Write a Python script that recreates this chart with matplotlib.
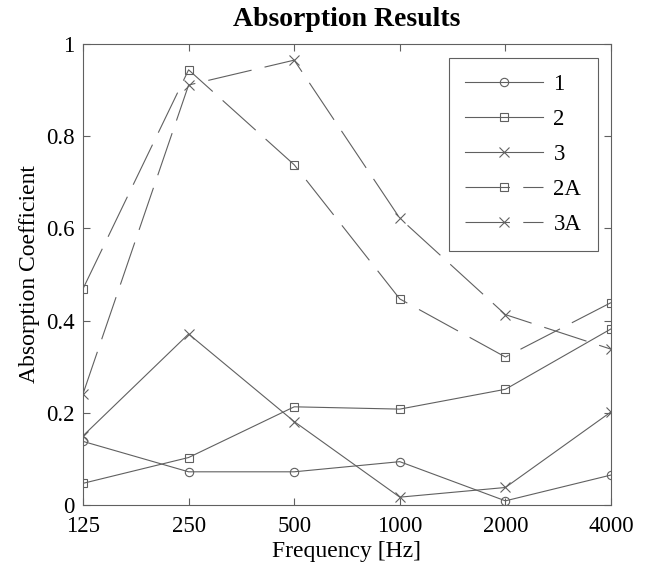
import numpy as np
import matplotlib.pyplot as plt

plt.rcParams['font.family'] = ['Liberation Serif', 'DejaVu Serif']

freqs = [125, 250, 500, 1000, 2000, 4000]
freq_labels = ['125', '250', '500', '1000', '2000', '4000']

s1 = [0.138, 0.072, 0.072, 0.094, 0.009, 0.065]
s2 = [0.047, 0.103, 0.213, 0.208, 0.251, 0.382]
s3 = [0.150, 0.371, 0.181, 0.017, 0.038, 0.202]
s2a = [0.469, 0.944, 0.738, 0.447, 0.321, 0.439]
s3a = [0.241, 0.911, 0.965, 0.622, 0.413, 0.338]

fig = plt.figure(figsize=(6.45, 5.65), dpi=100)
ax = fig.add_axes([83/645, 60/565, 528/645, 461/565])

c = '#606060'
kw = dict(color=c, lw=0.8, mfc='none', mec=c, mew=0.8)
ax.plot(freqs, s1, '-', marker='o', ms=6, label='1', **kw)
ax.plot(freqs, s2, '-', marker='s', ms=6, label='2', **kw)
ax.plot(freqs, s3, '-', marker='x', ms=7, label='3', **kw)
ax.plot(freqs, s2a, marker='s', ms=6, label='2A', dashes=(40, 12), **kw)
ax.plot(freqs, s3a, marker='x', ms=7, label='3A', dashes=(40, 12), **kw)

ax.set_xscale('log')
ax.set_xlim(125, 4000)
ax.set_ylim(0, 1)
ax.set_xticks(freqs)
ax.set_xticklabels(freq_labels)
ax.minorticks_off()
ax.set_yticks([0, 0.2, 0.4, 0.6, 0.8, 1])
ax.set_yticklabels(['0', '0.2', '0.4', '0.6', '0.8', '1'])
ax.tick_params(direction='in', top=True, right=True, length=5, width=0.8,
               color=c, labelsize=16.5)
ax.tick_params(axis='x', pad=8)
ax.tick_params(axis='y', pad=6)
for sp in ax.spines.values():
    sp.set_color(c)
    sp.set_linewidth(0.8)

ax.set_xlabel('Frequency [Hz]', fontsize=17, labelpad=3)
ax.set_ylabel('Absorption Coefficient', fontsize=17, labelpad=4)
ax.set_title('Absorption Results', fontsize=20, fontweight='bold', pad=13)

leg = ax.legend(loc='upper right', fontsize=16.5, handlelength=3.4,
                handletextpad=0.45, fancybox=False, framealpha=1,
                borderpad=0.72, labelspacing=0.6, borderaxespad=0,
                bbox_to_anchor=(0.975, 0.970))
leg.get_frame().set_edgecolor(c)
leg.get_frame().set_linewidth(0.8)

fig.savefig('out.png', dpi=100)
